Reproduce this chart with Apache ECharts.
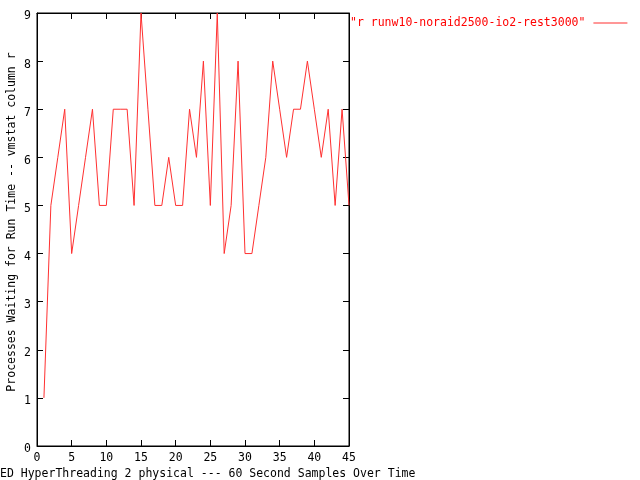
<!DOCTYPE html>
<html>
<head>
<meta charset="utf-8">
<script src="https://cdn.jsdelivr.net/npm/echarts@6/dist/echarts.min.js"></script>
<style>html,body{margin:0;padding:0;background:#fff;}#c{width:640px;height:480px;}</style>
</head>
<body>
<div id="c"></div>
<script>
const seriesName = '"r runw10-noraid2500-io2-rest3000"';
const xValues = [1,2,3,4,5,6,7,8,9,10,11,12,13,14,15,16,17,18,19,20,21,22,23,24,25,26,27,28,29,30,31,32,33,34,35,36,37,38,39,40,41,42,43,44,45];
const rValues = [1,5,6,7,4,5,6,7,5,5,7,7,7,5,9,7,5,5,6,5,5,7,6,8,5,9,4,5,8,4,4,5,6,8,7,6,7,7,8,7,6,7,5,7,5];
const xLabel = 'ED HyperThreading 2 physical --- 60 Second Samples Over Time';
const yLabel = 'Processes Waiting for Run Time -- vmstat column r';

const FONT = 'DejaVu Sans Mono';
const FS = 11.5;
const RED = '#ff3030';
const chart = echarts.init(document.getElementById('c'), null, {renderer: 'canvas'});
const tick = {show: true, inside: true, length: 6, lineStyle: {color: '#000', width: 1}};
const line = {show: true, onZero: false, lineStyle: {color: '#000', width: 1}};
chart.setOption({
  animation: false,
  backgroundColor: '#fff',
  grid: {left: 37, right: 291, top: 13, bottom: 34, show: true, borderColor: '#000', borderWidth: 1},
  legend: {
    left: 345, top: 12, align: 'right', itemWidth: 34, itemHeight: 1, icon: 'rect',
    itemStyle: {color: RED},
    textStyle: {color: '#ff0000', fontFamily: FONT, fontSize: FS, padding: [0, 3, 0, 0]},
    data: [seriesName]
  },
  xAxis: [
    {type: 'value', min: 0, max: 45, interval: 5, position: 'bottom',
     axisLine: line, axisTick: tick, splitLine: {show: false},
     axisLabel: {color: '#000', fontFamily: FONT, fontSize: FS, margin: 6}},
    {type: 'value', min: 0, max: 45, interval: 5, position: 'top',
     axisLine: line, axisTick: tick, splitLine: {show: false}, axisLabel: {show: false}}
  ],
  yAxis: [
    {type: 'value', min: 0, max: 9, interval: 1, position: 'left',
     axisLine: line, axisTick: tick, splitLine: {show: false},
     axisLabel: {color: '#000', fontFamily: FONT, fontSize: FS, margin: 6, verticalAlign: 'top', lineHeight: 7}},
    {type: 'value', min: 0, max: 9, interval: 1, position: 'right',
     axisLine: line, axisTick: tick, splitLine: {show: false}, axisLabel: {show: false}}
  ],
  graphic: [
    {type: 'text', left: 0, top: 468, style: {text: xLabel, fill: '#000', font: FS + 'px "' + FONT + '"'}},
    {type: 'text', x: 12, y: 222, rotation: Math.PI / 2,
     style: {text: yLabel, fill: '#000', font: FS + 'px "' + FONT + '"', align: 'center', verticalAlign: 'middle'}}
  ],
  series: [{
    name: seriesName, type: 'line', xAxisIndex: 0, yAxisIndex: 0,
    symbol: 'none', clip: true,
    lineStyle: {color: RED, width: 1},
    itemStyle: {color: RED},
    data: xValues.map((x, i) => [x, rValues[i]])
  }]
});
</script>
</body>
</html>
